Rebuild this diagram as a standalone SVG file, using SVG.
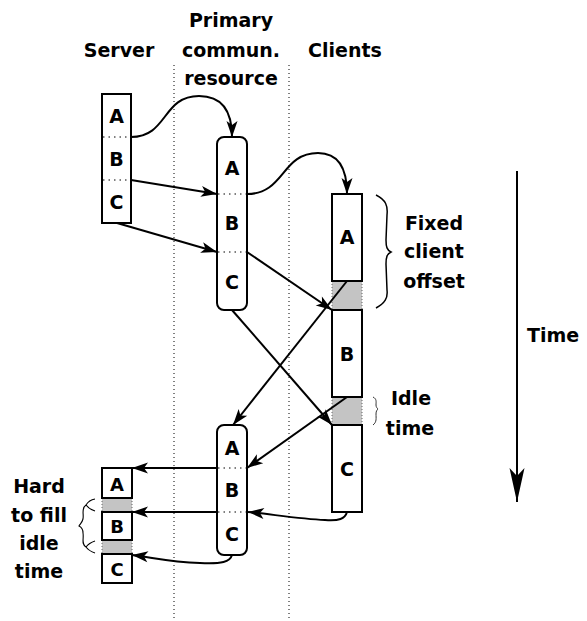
<svg xmlns="http://www.w3.org/2000/svg" width="587" height="621" viewBox="0 0 587 621">
  <style>
    .lbl { font-family: "DejaVu Sans", "Liberation Sans", sans-serif; font-weight: bold; font-size: 19px; fill: #000; }
    .mid { text-anchor: middle; }
    .box { fill: #fff; stroke: #000; stroke-width: 2; }
    .gap { fill: #c4c4c4; stroke: none; }
    .gapedge { stroke: #666; stroke-width: 1; stroke-dasharray: 1 2; }
    .sep { stroke: #000; stroke-width: 1; stroke-dasharray: 1.5 4; }
    .lane { stroke: #000; stroke-width: 1; stroke-dasharray: 1 3; }
    .conn { fill: none; stroke: #000; stroke-width: 2; marker-end: url(#arr); }
    .brace { fill: none; stroke: #000; stroke-width: 1.5; }
  </style>
  <defs>
    <marker id="arr" markerUnits="userSpaceOnUse" viewBox="0 0 16 11" markerWidth="16" markerHeight="11" refX="16" refY="5.5" orient="auto" overflow="visible">
      <path d="M0,0 L16,5.5 L0,11 L4,5.5 Z" fill="#000"/>
    </marker>
    <marker id="arrLong" markerUnits="userSpaceOnUse" viewBox="0 0 34 15" markerWidth="34" markerHeight="15" refX="34" refY="7.5" orient="auto" overflow="visible">
      <path d="M0,0 L34,7.5 L0,15 L8,7.5 Z" fill="#000"/>
    </marker>
  </defs>

  <!-- column headings -->
  <g id="headings">
    <text class="lbl mid" x="119" y="57">Server</text>
    <text class="lbl mid" x="231" y="27">Primary</text>
    <text class="lbl mid" x="231" y="57">commun.</text>
    <text class="lbl mid" x="231" y="85">resource</text>
    <text class="lbl mid" x="345" y="57">Clients</text>
  </g>

  <!-- lane dividers -->
  <g id="lanes">
    <line class="lane" x1="174" y1="65" x2="174" y2="621"/>
    <line class="lane" x1="289" y1="65" x2="289" y2="621"/>
  </g>

  <!-- server, first round -->
  <g id="server-top">
    <rect class="box" x="102" y="94" width="29" height="129"/>
    <line class="sep" x1="103" y1="137" x2="130" y2="137"/>
    <line class="sep" x1="103" y1="180" x2="130" y2="180"/>
    <text class="lbl mid" x="116.5" y="123">A</text>
    <text class="lbl mid" x="116.5" y="166">B</text>
    <text class="lbl mid" x="116.5" y="209">C</text>
  </g>

  <!-- primary resource, first round -->
  <g id="primary-top">
    <rect class="box" x="217" y="137" width="30" height="173" rx="7"/>
    <line class="sep" x1="218" y1="194" x2="246" y2="194"/>
    <line class="sep" x1="218" y1="252" x2="246" y2="252"/>
    <text class="lbl mid" x="232" y="175">A</text>
    <text class="lbl mid" x="232" y="230">B</text>
    <text class="lbl mid" x="232" y="289">C</text>
  </g>

  <!-- client timeline -->
  <g id="clients">
    <rect class="gap" x="332" y="281" width="30" height="29"/>
    <rect class="gap" x="332" y="397" width="30" height="28"/>
    <line class="gapedge" x1="332" y1="281" x2="332" y2="310"/>
    <line class="gapedge" x1="362" y1="281" x2="362" y2="310"/>
    <line class="gapedge" x1="332" y1="397" x2="332" y2="425"/>
    <line class="gapedge" x1="362" y1="397" x2="362" y2="425"/>
    <rect class="box" x="332" y="194" width="30" height="87"/>
    <rect class="box" x="332" y="310" width="30" height="87"/>
    <rect class="box" x="332" y="425" width="30" height="87"/>
    <text class="lbl mid" x="347" y="244">A</text>
    <text class="lbl mid" x="347" y="361">B</text>
    <text class="lbl mid" x="347" y="476">C</text>
  </g>

  <!-- primary resource, return round -->
  <g id="primary-bottom">
    <rect class="box" x="217" y="425" width="30" height="130" rx="7"/>
    <line class="sep" x1="218" y1="468" x2="246" y2="468"/>
    <line class="sep" x1="218" y1="512" x2="246" y2="512"/>
    <text class="lbl mid" x="232" y="455">A</text>
    <text class="lbl mid" x="232" y="497">B</text>
    <text class="lbl mid" x="232" y="541">C</text>
  </g>

  <!-- server, receiving results -->
  <g id="server-bottom">
    <rect class="gap" x="102" y="498" width="30" height="14"/>
    <rect class="gap" x="102" y="540" width="30" height="14"/>
    <line class="gapedge" x1="102" y1="498" x2="102" y2="512"/>
    <line class="gapedge" x1="132" y1="498" x2="132" y2="512"/>
    <line class="gapedge" x1="102" y1="540" x2="102" y2="554"/>
    <line class="gapedge" x1="132" y1="540" x2="132" y2="554"/>
    <rect class="box" x="102" y="468" width="30" height="30"/>
    <rect class="box" x="102" y="512" width="30" height="28"/>
    <rect class="box" x="102" y="554" width="30" height="29"/>
    <text class="lbl mid" x="117" y="491" style="font-size:18px">A</text>
    <text class="lbl mid" x="117" y="533" style="font-size:18px">B</text>
    <text class="lbl mid" x="117" y="576" style="font-size:18px">C</text>
  </g>

  <!-- braces and notes -->
  <g id="offset-note">
    <path class="brace" d="M376,195 C386,200 388,206 387,215 L386,240 C386,247 387,250 391,252 C387,254 386,257 386,264 L387,290 C388,298 385,303 376,308"/>
    <text class="lbl mid" x="434" y="230">Fixed</text>
    <text class="lbl mid" x="434" y="258">client</text>
    <text class="lbl mid" x="434" y="288">offset</text>
  </g>
  <g id="idle-note">
    <path class="brace" style="stroke-width:1;stroke:#333" d="M373,397 C377,399 376,402 376,405 C376,407 377,408 378,409 C377,410 376,411 376,414 C376,418 377,422 373,425"/>
    <text class="lbl mid" x="411" y="405">Idle</text>
    <text class="lbl mid" x="410" y="435">time</text>
  </g>
  <g id="hard-note">
    <path class="brace" style="stroke-width:1.1" d="M95,499 Q89,500 86,505 Q89,509 95,511 M86,505 C81,508 84,514 83,519 C82,523 80,524 79,526 C81,527 83,529 83,533 C84,539 81,544 86,547 M95,541 Q89,543 86,547 Q89,551 95,553"/>
    <text class="lbl mid" x="39" y="493">Hard</text>
    <text class="lbl mid" x="39" y="522">to fill</text>
    <text class="lbl mid" x="39" y="550">idle</text>
    <text class="lbl mid" x="39" y="578">time</text>
  </g>

  <!-- time axis -->
  <g id="time-axis">
    <line x1="517" y1="171" x2="517" y2="502" stroke="#000" stroke-width="2" marker-end="url(#arrLong)"/>
    <text class="lbl" x="527" y="342">Time</text>
  </g>

  <!-- connectors -->
  <g id="connectors">
    <path class="conn" d="M131,137 C168,137 162,96 199,96 C224,96 232,113 232,137"/>
    <path class="conn" d="M131,180 L217,194"/>
    <path class="conn" d="M117,223 L217,252"/>
    <path class="conn" d="M247,194 C285,194 281,153 318,153 C339,153 347,170 347,194"/>
    <path class="conn" d="M247,252 L332,310"/>
    <path class="conn" d="M232,310 L332,425"/>
    <path class="conn" d="M347,281 L233,425"/>
    <path class="conn" d="M347,397 L247,468"/>
    <path class="conn" d="M347,512 C345,519 339,521 325,520 C300,519 270,514 248,512"/>
    <path class="conn" d="M217,468 L132,468"/>
    <path class="conn" d="M217,512 L132,512"/>
    <path class="conn" d="M232,555 C230,562 222,564 200,563 C170,562 150,557 132,555"/>
  </g>
</svg>
